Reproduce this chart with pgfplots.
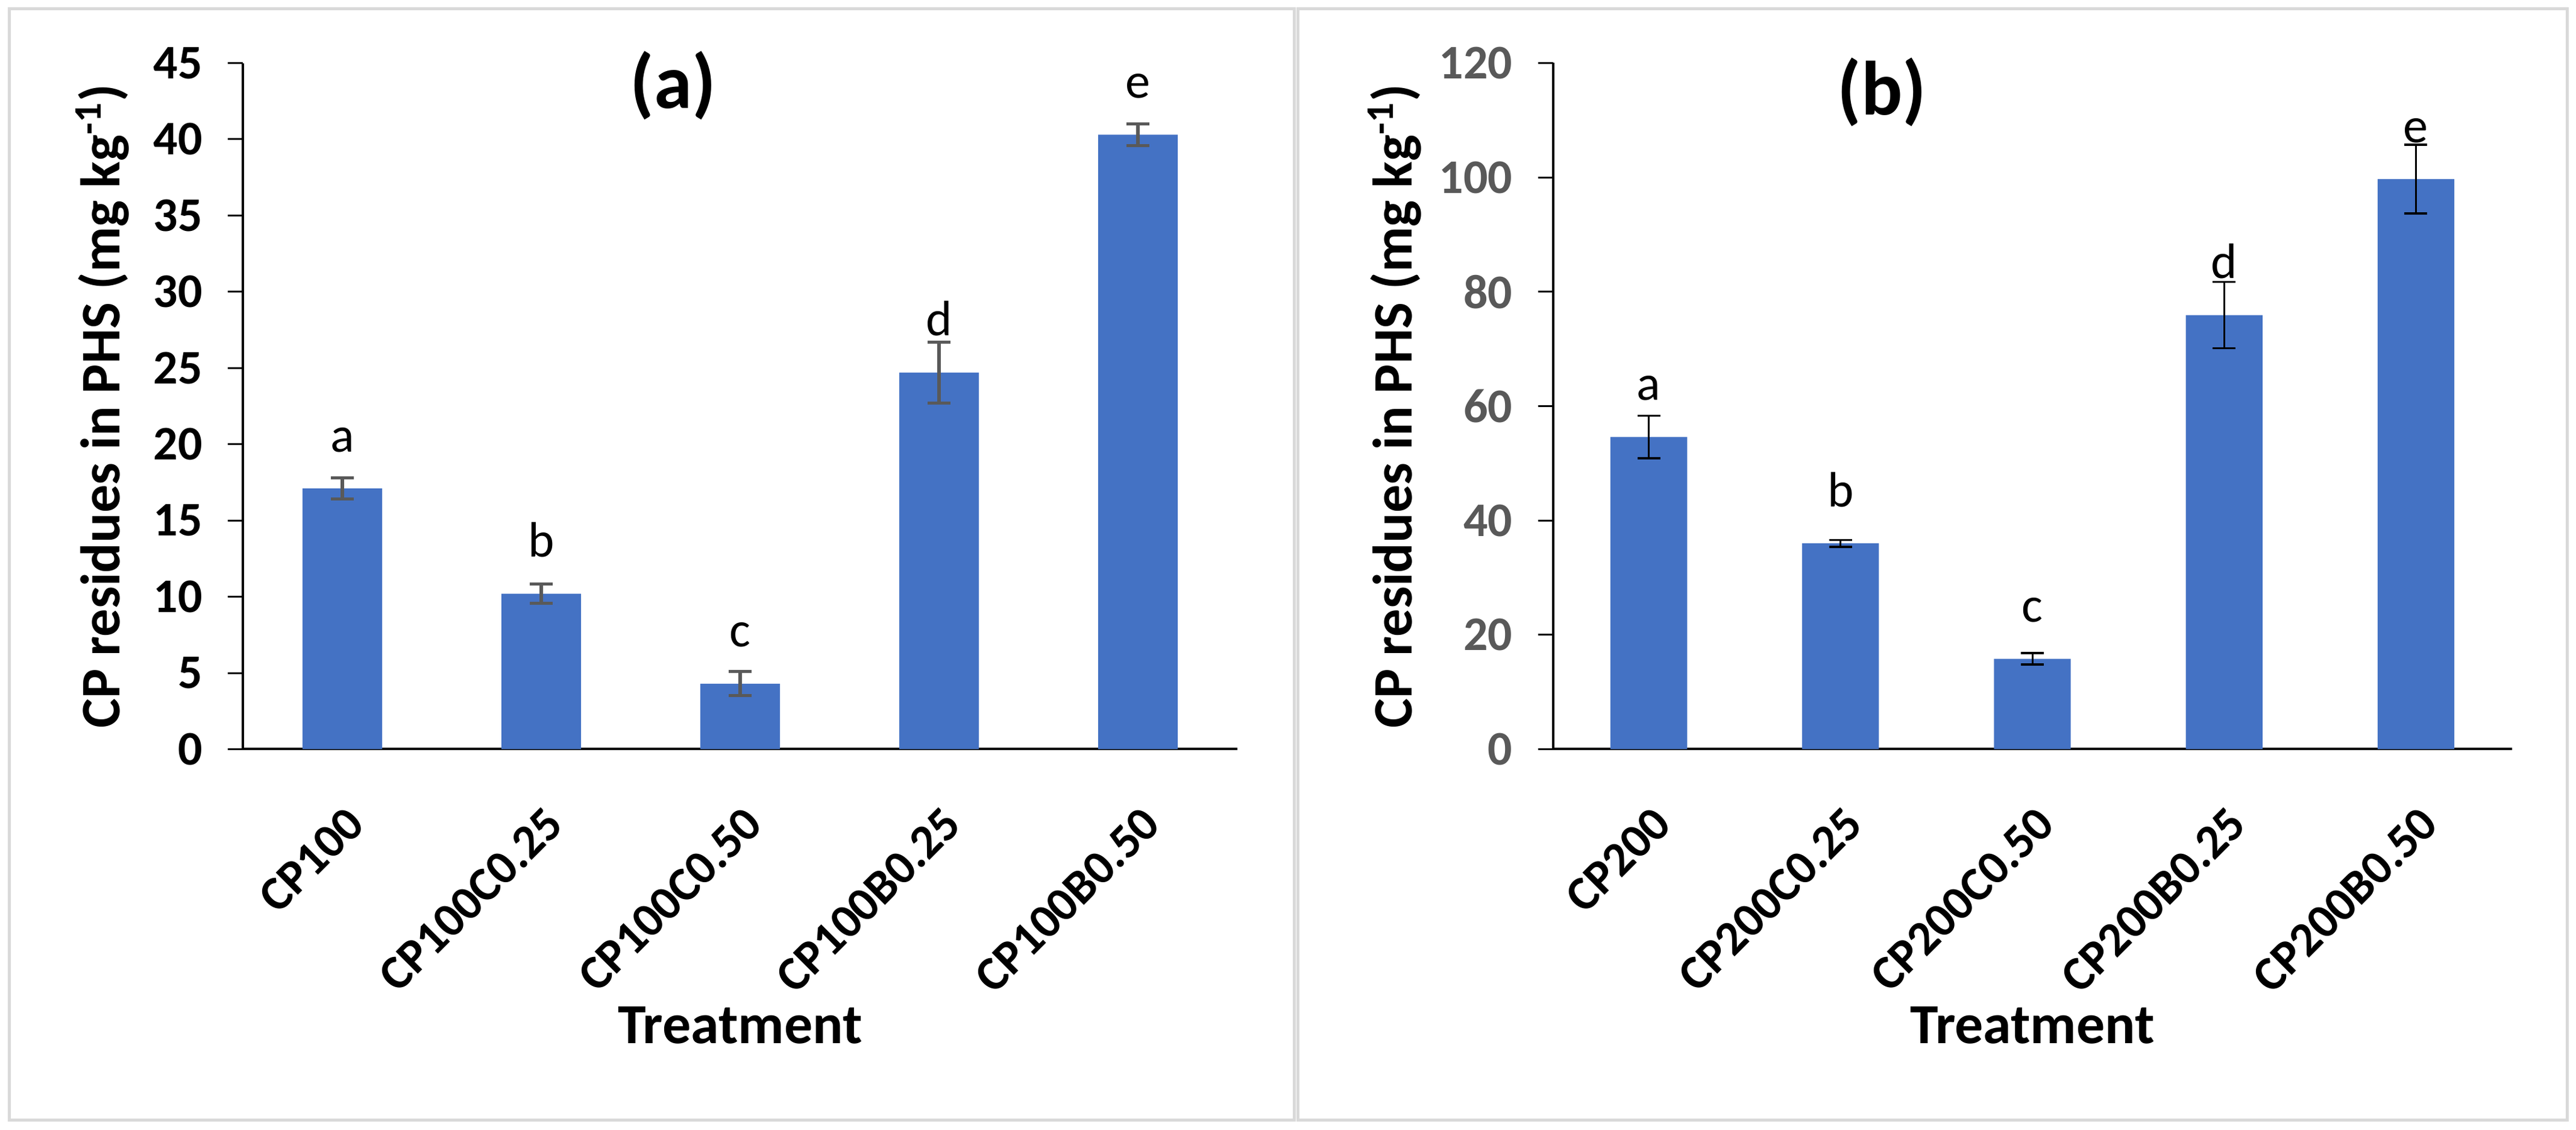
\documentclass[border=0pt]{standalone}
\usepackage{fontspec}
\setmainfont{Carlito}
\usepackage{pgfplots}
\pgfplotsset{compat=1.18}
\usepackage{pgfplotstable}
\definecolor{barblue}{HTML}{4472C4}
\definecolor{errgray}{HTML}{595959}
\definecolor{framegray}{HTML}{D9D9D9}

\pgfplotstableread{
x y err letter
0 17.1 0.7 a
1 10.2 0.65 b
2 4.3 0.8 c
3 24.7 2.0 d
4 40.3 0.7 e
}\dataA
\pgfplotstableread{
x y err letter
0 54.6 3.7 a
1 36.0 0.6 b
2 15.8 1.0 c
3 75.9 5.8 d
4 99.7 6.0 e
}\dataB

\pgfplotsset{
  panel/.style={
    scale only axis, anchor=south west,
    height=227.6pt,
    ybar, bar width=0.4,
    xmin=-0.5, xmax=4.5, ymin=0,
    clip=false,
    axis x line*=bottom, axis y line*=left,
    axis line style={black, line width=0.8pt, -},
    xtick=data, xtick style={draw=none},
    tick align=outside, major tick length=5pt,
    ytick style={black, line width=0.6pt},
    /pgf/number format/assume math mode=true,
    yticklabel style={font=\fontsize{16}{19}\selectfont\bfseries, anchor=east, inner sep=0pt, xshift=-8.2pt},
    xticklabel style={font=\fontsize{16}{19}\selectfont\bfseries, xshift=4.5pt, yshift=-17pt, rotate=45, anchor=east, inner sep=0pt},
    ylabel style={font=\fontsize{18.5}{21}\selectfont\bfseries, anchor=base},
    xlabel style={font=\fontsize{18.8}{21}\selectfont\bfseries, at={(axis description cs:0.5,-0.429)}, anchor=base},
    xlabel={Treatment},
    ylabel={CP residues in PHS (mg kg\textsuperscript{-1})},
    title style={font=\fontsize{25.5}{29}\selectfont\bfseries, anchor=center},
    every node near coord/.append style={anchor=base, yshift=12.2pt, font=\fontsize{16.5}{19}\selectfont, text=black},
  }
}

\begin{document}
\begin{tikzpicture}
\useasboundingbox (0,0) rectangle (854.8pt,374.8pt);
\draw[framegray, line width=1pt] (3.06pt,3.2pt) rectangle (429.4pt,371.9pt);
\draw[framegray, line width=1pt] (430.6pt,3.2pt) rectangle (851.8pt,371.9pt);

\begin{axis}[panel,
  at={(80.55pt,126.3pt)}, width=330.1pt,
  ymax=45, ytick={0,5,...,45},
  xticklabels={CP100,CP100C0.25,CP100C0.50,CP100B0.25,CP100B0.50},
  ylabel style={at={(axis description cs:-0.1236,0.5)}},
  title={(a)}, title style={at={(axis description cs:0.4328,0.941)}},
]
\addplot[fill=barblue, draw=none, point meta=explicit symbolic, nodes near coords,
  error bars/.cd, y dir=both, y explicit,
  error bar style={color=errgray, line width=1.1pt},
  error mark options={rotate=90, color=errgray, line width=1pt, mark size=3.8pt}]
  table[x=x, y=y, y error=err, meta=letter] {\dataA};
\end{axis}

\begin{axis}[panel,
  at={(515.3pt,126.3pt)}, width=318.2pt,
  ymax=120, ytick={0,20,...,120},
  yticklabel style={text=errgray},
  xticklabels={CP200,CP200C0.25,CP200C0.50,CP200B0.25,CP200B0.50},
  ylabel style={at={(axis description cs:-0.147,0.5)}},
  title={(b)}, title style={at={(axis description cs:0.343,0.9315)}},
]
\addplot[fill=barblue, draw=none, point meta=explicit symbolic, nodes near coords,
  error bars/.cd, y dir=both, y explicit,
  error bar style={color=black, line width=0.6pt},
  error mark options={rotate=90, color=black, line width=0.7pt, mark size=3.8pt}]
  table[x=x, y=y, y error=err, meta=letter] {\dataB};
\end{axis}
\end{tikzpicture}
\end{document}
